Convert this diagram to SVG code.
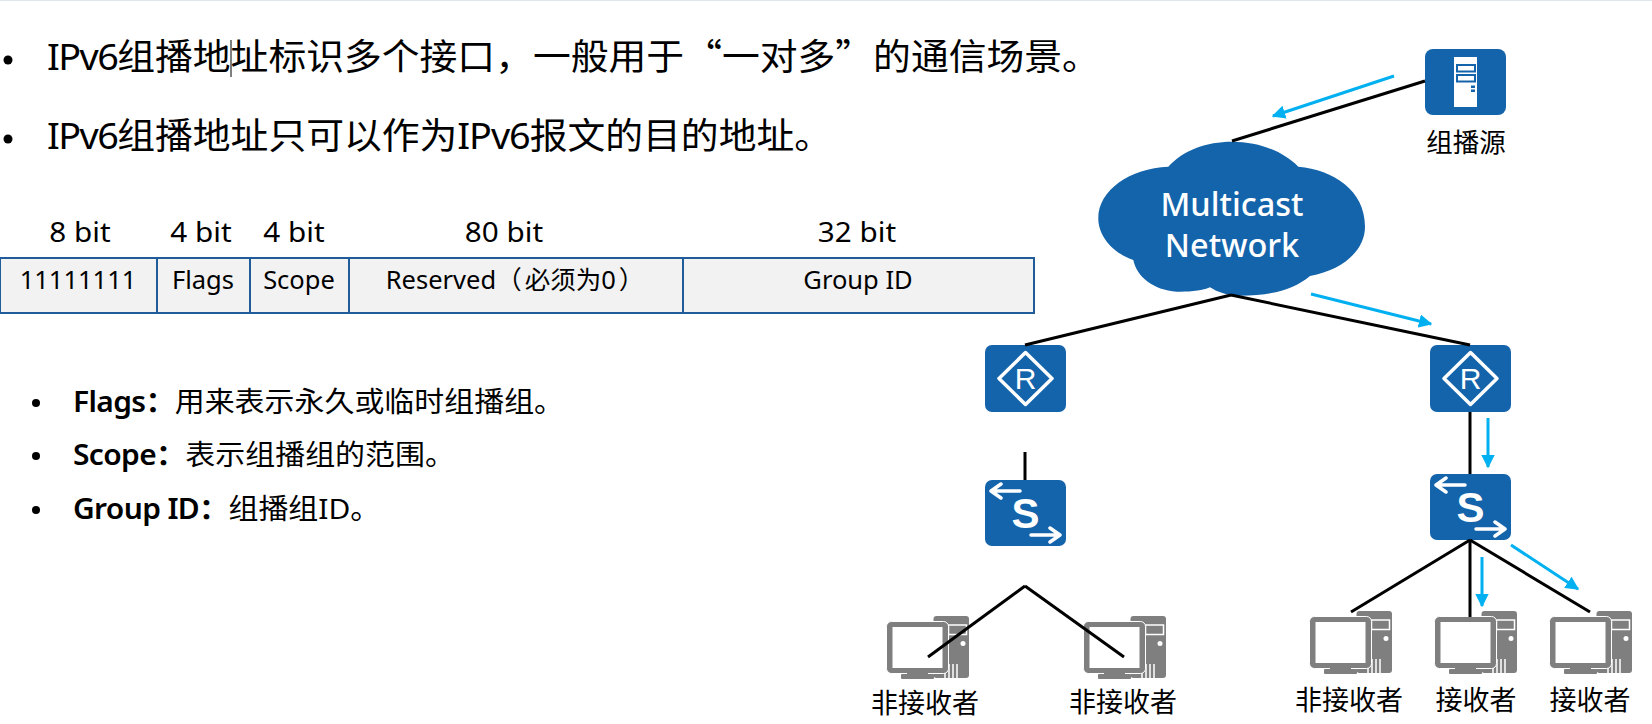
<svg xmlns="http://www.w3.org/2000/svg" width="1652" height="724" viewBox="0 0 1652 724">
<style>
text{font-family:"Noto Sans","Noto Sans CJK SC",sans-serif;fill:#000}
.h{font-size:36px}
.lat{letter-spacing:-1.500px}
.lat2{letter-spacing:-1px}
.q{font-family:"Noto Sans CJK SC",sans-serif}
.b{font-size:28px;text-anchor:middle}
.t{font-size:25.500px;text-anchor:middle}
.l{font-size:27px;text-anchor:middle}
.s{font-size:28px}
.sb{font-weight:600;letter-spacing:-.6px}
.w{fill:#fff;font-size:32.500px;font-weight:500;text-anchor:middle}
.cell{fill:#f2f2f2;stroke:#1f5c99;stroke-width:2}
.k{stroke:#000;stroke-width:3;fill:none}
.c{stroke:#00b0f0;stroke-width:3;fill:none;marker-end:url(#a)}
.n{fill:#1464ab}
.wl{stroke:#fff;fill:none;stroke-linecap:round;stroke-linejoin:round}
.g{fill:#7f7f7f}
.ic{fill:#fff;font-family:"Liberation Sans",sans-serif;text-anchor:middle}
</style>
<defs>
<marker id="a" viewBox="0 0 10 10" refX="9" refY="5" markerWidth="4.500" markerHeight="4.500" orient="auto"><path d="M0 0L10 5L0 10Z" fill="#00b0f0"/></marker>
<g id="router"><rect width="81" height="67" rx="7" class="n"/><path d="M40.500 7.500L67 33.500L40.500 59.500L14 33.500Z" class="wl" stroke-width="3.500"/></g>
<g id="switch"><rect width="81" height="66" rx="7" class="n"/><path d="M35 11H7M16 4L6 11L16 18M46 55H74M65 48L75 55L65 62" class="wl" stroke-width="3.500"/></g>
<g id="pc"><rect x="46.500" width="35.500" height="62" rx="3" class="g"/><rect x="61.500" y="9" width="18" height="9.500" fill="none" stroke="#fff" stroke-width="1.500"/><circle cx="76" cy="27.500" r="2.500" fill="#fff"/><path d="M58 50V62M62 48V62M66 48V62M70 48V62" stroke="#fff" stroke-width="1.500"/><rect x="-.5" y="5.500" width="62" height="52" rx="5" class="g" stroke="#fff"/><rect x="5.500" y="11" width="50" height="41" fill="#fff"/><rect x="20" y="57" width="21" height="2" class="g"/><rect x="14" y="58" width="33" height="5" rx="1" class="g"/></g>
</defs>
<rect width="1652" height="724" fill="#fff"/>
<rect width="1652" height="1" fill="#dfe6ee"/>
<g id="bullets">
<circle cx="8" cy="60" r="4.500"/><circle cx="8" cy="139" r="4.500"/>
<text class="h" transform="translate(47 70) scale(1.05 1)"><tspan class="lat">IPv6</tspan>组播地址标识多个接口，一般用于<tspan class="q">“</tspan>一对多<tspan class="q">”</tspan>的通信场景。</text>
<rect x="230.500" y="40" width="1" height="37"/>
<text class="h" transform="translate(47 149) scale(1.05 1)"><tspan class="lat">IPv6</tspan>组播地址只可以作为<tspan class="lat2">IPv6</tspan>报文的目的地址。</text>
</g>
<g id="table">
<text class="b" transform="translate(80 242) scale(1.06 1)">8 bit</text>
<text class="b" transform="translate(201 242) scale(1.06 1)">4 bit</text>
<text class="b" transform="translate(294 242) scale(1.06 1)">4 bit</text>
<text class="b" transform="translate(504 242) scale(1.06 1)">80 bit</text>
<text class="b" transform="translate(857 242) scale(1.06 1)">32 bit</text>
<rect class="cell" x="0" y="258" width="157" height="55"/>
<rect class="cell" x="157" y="258" width="93" height="55"/>
<rect class="cell" x="250" y="258" width="99" height="55"/>
<rect class="cell" x="349" y="258" width="334" height="55"/>
<rect class="cell" x="683" y="258" width="351" height="55"/>
<text class="t" x="78" y="289">11111111</text>
<text class="t" x="203" y="289">Flags</text>
<text class="t" x="299" y="289">Scope</text>
<text class="t" x="515" y="289">Reserved（<tspan dx="3">必须为0</tspan><tspan dx="3">）</tspan></text>
<text class="t" x="858" y="289">Group ID</text>
</g>
<g id="notes">
<circle cx="36" cy="403" r="4"/><circle cx="36" cy="456" r="4"/><circle cx="36" cy="510" r="4"/>
<text class="s" transform="translate(73 412) scale(1.07 1)"><tspan class="sb">Flags：</tspan>用来表示永久或临时组播组。</text>
<text class="s" transform="translate(73 465) scale(1.07 1)"><tspan class="sb">Scope：</tspan>表示组播组的范围。</text>
<text class="s" transform="translate(73 519) scale(1.07 1)"><tspan class="sb">Group ID：</tspan>组播组ID。</text>
</g>
<g id="cloud">
<path class="n" d="M1168.300 166.700C1183.300 150 1206.700 141.700 1231.700 141.700C1260 141.700 1283.300 151.700 1298.300 166.700C1333.300 170 1365 190 1365 226.700C1365 250 1343.300 270 1310 276C1293.300 290 1270 295.700 1240 295.700C1226.700 295.700 1216.700 291.700 1210 287.300C1200 291.700 1186.700 291.700 1176.700 291.700C1153.300 290 1136.700 276.700 1133.300 260C1113.300 253.300 1098.300 236.700 1098.300 218.300C1098.300 190 1130 168.300 1168.300 166.700Z"/>
<text class="w" x="1232" y="216">Multicast</text>
<text class="w" x="1232" y="257">Network</text>
</g>
<g id="source">
<rect x="1425" y="49" width="81" height="66" rx="8" class="n"/>
<rect x="1454" y="57" width="23" height="50" fill="#fff"/>
<rect x="1457" y="65" width="18" height="6.500" fill="none" stroke="#1464ab" stroke-width="2"/>
<rect x="1457" y="75" width="18" height="6.500" fill="none" stroke="#1464ab" stroke-width="2"/>
<rect x="1471" y="85.500" width="4" height="2.500" class="n"/><rect x="1471" y="89.500" width="4" height="2.500" class="n"/>
<text class="l" x="1466" y="152" style="font-size:26.500px">组播源</text>
</g>
<g id="router1"><use href="#router" x="985" y="345"/><text class="ic" x="1025.500" y="389" font-size="30">R</text></g>
<g id="router2"><use href="#router" x="1430" y="345"/><text class="ic" x="1470.500" y="389" font-size="30">R</text></g>
<g id="switch1"><use href="#switch" x="985" y="480"/><text class="ic" x="1025.500" y="528" font-size="42" font-weight="700">S</text></g>
<g id="switch2"><use href="#switch" x="1430" y="474"/><text class="ic" x="1470.500" y="522" font-size="42" font-weight="700">S</text></g>
<g id="pc1"><use href="#pc" x="887" y="616"/><text class="l" x="925" y="713">非接收者</text></g>
<g id="pc2"><use href="#pc" x="1084" y="616"/><text class="l" x="1123" y="712">非接收者</text></g>
<g id="pc3"><use href="#pc" x="1310" y="611"/><text class="l" x="1349" y="710">非接收者</text></g>
<g id="pc4"><use href="#pc" x="1435" y="611"/><text class="l" x="1476" y="710">接收者</text></g>
<g id="pc5"><use href="#pc" x="1550" y="611"/><text class="l" x="1590" y="710">接收者</text></g>
<g id="connectors">
<path class="k" d="M1425 81L1232 141"/>
<path class="k" d="M1231 295L1025 345"/>
<path class="k" d="M1231 295L1470 345"/>
<path class="k" d="M1025 452V480"/>
<path class="k" d="M1470 412V474"/>
<path class="k" d="M1025 586L928 657"/>
<path class="k" d="M1025 586L1124 657"/>
<path class="k" d="M1470 540L1351 612"/>
<path class="k" d="M1470 540V617"/>
<path class="k" d="M1470 540L1590 612"/>
<path class="c" d="M1394 76L1273 116"/>
<path class="c" d="M1311 294L1431 324"/>
<path class="c" d="M1488 418V467"/>
<path class="c" d="M1482 557V606"/>
<path class="c" d="M1511 545L1578 589"/>
</g>
</svg>
